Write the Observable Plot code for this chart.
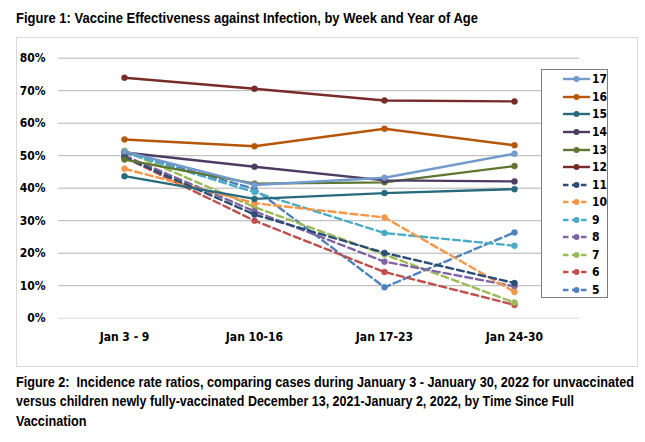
<!DOCTYPE html>
<html>
<head>
<meta charset="utf-8">
<script src="https://cdn.jsdelivr.net/npm/d3@7"></script>
<script src="https://cdn.jsdelivr.net/npm/@observablehq/plot@0.6"></script>
<style>
  html, body { margin: 0; padding: 0; background: #fff; }
  body { width: 645px; height: 442px; position: relative; overflow: hidden;
         font-family: "DejaVu Sans Condensed", "Liberation Sans", sans-serif; }
  .txt { position: absolute; left: 16px; font-family: "Liberation Sans", Arial, sans-serif; font-weight: bold; font-size: 14px; line-height: 16px; color: #000; white-space: nowrap; transform-origin: 0 50%; }
  .frame { position: absolute; left: 16px; top: 37px; width: 622px; height: 330px; border: 1px solid #d9d9d9; box-sizing: border-box; }
  #chart { position: absolute; left: 0; top: 37px; }
  .legend { position: absolute; left: 541px; top: 69px; width: 67px; height: 229px; border: 1px solid #7f7f7f; background: #fff; box-sizing: border-box; }
  .legend .row { position: absolute; left: 0; height: 14px; width: 66px; }
  .legend .row svg { position: absolute; left: 20px; top: 0; }
  .legend .row span { position: absolute; left: 50px; top: 0; font-size: 12px; font-weight: bold; line-height: 14px; color: #000; }
</style>
</head>
<body>
<div class="frame"></div>
<div id="chart"></div>
<div class="legend" id="legend"></div>
<div class="txt" id="title" style="top:10px">Figure 1: Vaccine Effectiveness against Infection, by Week and Year of Age</div>
<div class="txt cap" id="cap1" style="top:374px">Figure 2:&nbsp; Incidence rate ratios, comparing cases during January 3 - January 30, 2022 for unvaccinated</div>
<div class="txt cap" id="cap2" style="top:393px">versus children newly fully-vaccinated December 13, 2021-January 2, 2022, by Time Since Full</div>
<div class="txt cap" id="cap3" style="top:413px">Vaccination</div>
<script>
// Categories
const weeks = ["Jan 3 - 9", "Jan 10-16", "Jan 17-23", "Jan 24-30"];
// Ages in series order (Excel series 1..13); legend lists them reversed
const ages = [5, 6, 7, 8, 9, 10, 11, 12, 13, 14, 15, 16, 17];
// Vaccine effectiveness (%) by week, one array per year of age
const age5  = [51.0, 39.8,  9.5, 26.4];
const age6  = [49.5, 30.0, 14.2,  4.1];
const age7  = [51.5, 34.2, 19.6,  4.8];
const age8  = [50.0, 32.9, 17.4,  9.8];
const age9  = [51.0, 38.8, 26.2, 22.3];
const age10 = [46.0, 35.4, 31.0,  8.1];
const age11 = [49.5, 31.9, 20.1, 10.8];
const age12 = [74.0, 70.6, 67.0, 66.7];
const age13 = [48.8, 41.4, 41.8, 46.8];
const age14 = [51.0, 46.6, 42.4, 42.1];
const age15 = [43.7, 36.7, 38.5, 39.7];
const age16 = [55.0, 52.9, 58.3, 53.2];
const age17 = [51.3, 41.0, 43.2, 50.6];
// Y tick values
const yTicks = [0, 10, 20, 30, 40, 50, 60, 70, 80];
// Series colours and styles
const colors = ["#4F81BD", "#C0504D", "#9BBB59", "#8064A2", "#4BACC6", "#F79646", "#2C4D75",
                "#772C2A", "#5F7530", "#4D3B62", "#276A7C", "#B65708", "#729ACA"];
const dashed = [true, true, true, true, true, true, true, false, false, false, false, false, false];

const seriesValues = [age5, age6, age7, age8, age9, age10, age11, age12, age13, age14, age15, age16, age17];
const table = [];
ages.forEach((a, i) => seriesValues[i].forEach((v, j) => table.push({age: a, week: weeks[j], value: v})));

const DASH = "7,4";
const marks = [
  Plot.ruleY(yTicks, {y: d => d, stroke: d => d === 0 ? "#d9d9d9" : "#b3b3b3", strokeWidth: 1})
];
ages.forEach((a, i) => {
  const rows = table.filter(d => d.age === a);
  marks.push(Plot.line(rows, {x: "week", y: "value", stroke: colors[i], strokeWidth: 2.4,
    strokeDasharray: dashed[i] ? DASH : null}));
  marks.push(Plot.dot(rows, {x: "week", y: "value", fill: colors[i], stroke: colors[i], strokeWidth: 0.5, r: 3}));
});
marks.push(Plot.axisY(yTicks, {tickSize: 0, tickPadding: 13, tickFormat: d => d + "%", fontSize: 12, fontWeight: "bold"}));
marks.push(Plot.axisX(weeks, {tickSize: 0, tickPadding: 14, fontSize: 12, fontWeight: "bold"}));

const chart = Plot.plot({
  width: 645,
  height: 322,
  marginLeft: 58,
  marginRight: 66,
  marginTop: 20.7,
  marginBottom: 41.3,
  x: {type: "point", domain: weeks, padding: 0.5, label: null},
  y: {domain: [0, 80], label: null},
  style: {fontFamily: '"DejaVu Sans Condensed", "Liberation Sans", sans-serif', color: "#000", background: "transparent", overflow: "visible"},
  marks
});
document.getElementById("chart").appendChild(chart);

// Legend (reversed order, as in the reference)
const legend = document.getElementById("legend");
const order = ages.map((a, i) => i).reverse();
order.forEach((i, k) => {
  const row = document.createElement("div");
  row.className = "row";
  row.style.top = (2.3 + k * 17.56) + "px";
  row.innerHTML = `<svg width="29" height="14"><line x1="1" x2="28" y1="7" y2="7" stroke="${colors[i]}" stroke-width="2.4" ${dashed[i] ? 'stroke-dasharray="5.5,3.5"' : ''}/><circle cx="14.5" cy="7" r="3" fill="${colors[i]}"/></svg><span>${ages[i]}</span>`;
  legend.appendChild(row);
});

// Narrow the Calibri-like texts to the reference widths
function fit(el, target) {
  const w = el.getBoundingClientRect().width;
  const s = target / w;
  el.style.transform = `scaleX(${s})`;
  return s;
}
fit(document.getElementById("title"), 462);
const s = fit(document.getElementById("cap1"), 618);
fit(document.getElementById("cap2"), 558);
document.getElementById("cap3").style.transform = `scaleX(${s})`;
</script>
</body>
</html>
